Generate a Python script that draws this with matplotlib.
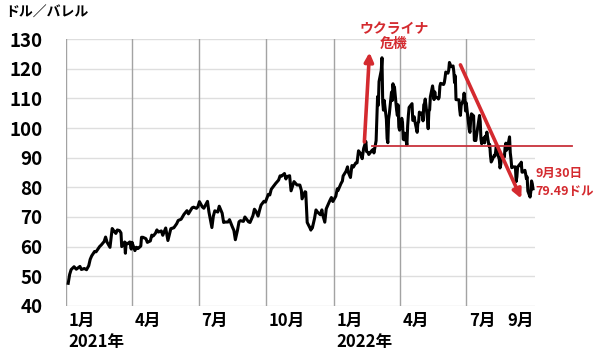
import matplotlib
matplotlib.use('Agg')
import matplotlib.pyplot as plt
import matplotlib.transforms as mtransforms
import matplotlib.dates as mdates
import numpy as np
import pandas as pd

plt.rcParams['font.family'] = ['Noto Sans CJK JP', 'DejaVu Sans']

# ---- data (WTI, USD/bbl) ----
dates_2021 = [
    '2021-01-04', '2021-01-06', '2021-01-08', '2021-01-12', '2021-01-13', '2021-01-15', '2021-01-20', '2021-01-22', '2021-01-26', '2021-01-29',
    '2021-02-01', '2021-02-03', '2021-02-05', '2021-02-09', '2021-02-11', '2021-02-16', '2021-02-18', '2021-02-22', '2021-02-24', '2021-02-26',
    '2021-03-02', '2021-03-04', '2021-03-05', '2021-03-08', '2021-03-10', '2021-03-12', '2021-03-15', '2021-03-17', '2021-03-18', '2021-03-22',
    '2021-03-23', '2021-03-24', '2021-03-26', '2021-03-29', '2021-03-31',
    '2021-04-01', '2021-04-05', '2021-04-07', '2021-04-09', '2021-04-13', '2021-04-14', '2021-04-16', '2021-04-20', '2021-04-22', '2021-04-26',
    '2021-04-28', '2021-04-30',
    '2021-05-03', '2021-05-05', '2021-05-07', '2021-05-11', '2021-05-13', '2021-05-17', '2021-05-19', '2021-05-20', '2021-05-24', '2021-05-26',
    '2021-05-28',
    '2021-06-01', '2021-06-03', '2021-06-07', '2021-06-09', '2021-06-11', '2021-06-15', '2021-06-17', '2021-06-22', '2021-06-24', '2021-06-28',
    '2021-06-30',
    '2021-07-02', '2021-07-06', '2021-07-08', '2021-07-13', '2021-07-15', '2021-07-19', '2021-07-21', '2021-07-23', '2021-07-27', '2021-07-29',
    '2021-08-02', '2021-08-04', '2021-08-06', '2021-08-10', '2021-08-12', '2021-08-16', '2021-08-18', '2021-08-20', '2021-08-23', '2021-08-25',
    '2021-08-27', '2021-08-31',
    '2021-09-02', '2021-09-07', '2021-09-09', '2021-09-13', '2021-09-15', '2021-09-17', '2021-09-20', '2021-09-22', '2021-09-24', '2021-09-28',
    '2021-09-30',
    '2021-10-04', '2021-10-06', '2021-10-08', '2021-10-12', '2021-10-14', '2021-10-18', '2021-10-20', '2021-10-22', '2021-10-26', '2021-10-28',
    '2021-10-29',
    '2021-11-02', '2021-11-04', '2021-11-08', '2021-11-10', '2021-11-12', '2021-11-16', '2021-11-18', '2021-11-19', '2021-11-23', '2021-11-24',
    '2021-11-26', '2021-11-30',
    '2021-12-01', '2021-12-02', '2021-12-03', '2021-12-06', '2021-12-08', '2021-12-10', '2021-12-14', '2021-12-16', '2021-12-17', '2021-12-20',
    '2021-12-22', '2021-12-27', '2021-12-29', '2021-12-31',
]
prices_2021 = [
    47.62, 50.63, 52.24, 53.21, 52.91, 52.36, 53.31, 52.27, 52.61, 52.20,
    53.55, 55.69, 56.85, 58.36, 58.24, 60.05, 60.52, 61.70, 63.22, 61.50,
    59.75, 63.83, 66.09, 65.05, 64.44, 65.61, 65.39, 64.60, 60.00, 61.55,
    57.76, 61.18, 60.97, 61.56, 59.16,
    61.45, 58.65, 59.77, 59.32, 60.18, 63.15, 63.13, 62.67, 61.43, 61.91,
    63.86, 63.58,
    64.49, 65.63, 64.90, 65.28, 63.82, 66.27, 63.36, 62.05, 66.05, 66.21,
    66.32,
    67.72, 68.81, 69.23, 70.05, 70.91, 72.12, 71.04, 73.08, 73.30, 72.91,
    73.47,
    75.16, 73.37, 72.94, 75.25, 71.65, 66.42, 70.30, 72.07, 71.65, 73.62,
    71.26, 68.15, 68.28, 68.29, 69.09, 66.59, 65.46, 62.32, 65.64, 68.36,
    68.74, 68.50,
    69.99, 68.35, 68.14, 70.45, 72.61, 71.97, 70.29, 72.23, 73.98, 75.29,
    75.03,
    77.62, 77.43, 79.35, 80.64, 81.31, 82.44, 83.87, 83.76, 84.65, 82.81,
    83.57,
    83.91, 78.81, 81.93, 81.34, 80.79, 80.76, 79.01, 76.10, 78.50, 78.39,
    68.15, 66.18,
    65.57, 66.50, 66.26, 69.49, 72.36, 71.67, 70.73, 72.38, 70.86, 68.23,
    72.76, 75.57, 76.56, 75.21,
]
dates_2022 = [
    '2022-01-04', '2022-01-06', '2022-01-07', '2022-01-11', '2022-01-13', '2022-01-14', '2022-01-18', '2022-01-20', '2022-01-21', '2022-01-24',
    '2022-01-26', '2022-01-28', '2022-01-31',
    '2022-02-02', '2022-02-04', '2022-02-07', '2022-02-09', '2022-02-11', '2022-02-14', '2022-02-15', '2022-02-17', '2022-02-18', '2022-02-22',
    '2022-02-24', '2022-02-25', '2022-02-28',
    '2022-03-01', '2022-03-02', '2022-03-03', '2022-03-04', '2022-03-07', '2022-03-08', '2022-03-09', '2022-03-10', '2022-03-11', '2022-03-14',
    '2022-03-15', '2022-03-16', '2022-03-17', '2022-03-18', '2022-03-21', '2022-03-22', '2022-03-23', '2022-03-24', '2022-03-25', '2022-03-28',
    '2022-03-29', '2022-03-30', '2022-03-31',
    '2022-04-01', '2022-04-04', '2022-04-05', '2022-04-06', '2022-04-07', '2022-04-08', '2022-04-11', '2022-04-12', '2022-04-13', '2022-04-14',
    '2022-04-18', '2022-04-19', '2022-04-20', '2022-04-21', '2022-04-22', '2022-04-25', '2022-04-26', '2022-04-27', '2022-04-28', '2022-04-29',
    '2022-05-02', '2022-05-03', '2022-05-04', '2022-05-05', '2022-05-06', '2022-05-09', '2022-05-10', '2022-05-11', '2022-05-12', '2022-05-13',
    '2022-05-16', '2022-05-17', '2022-05-18', '2022-05-19', '2022-05-20', '2022-05-23', '2022-05-24', '2022-05-25', '2022-05-26', '2022-05-27',
    '2022-05-31',
    '2022-06-01', '2022-06-02', '2022-06-03', '2022-06-06', '2022-06-07', '2022-06-08', '2022-06-09', '2022-06-10', '2022-06-13', '2022-06-14',
    '2022-06-15', '2022-06-16', '2022-06-17', '2022-06-21', '2022-06-22', '2022-06-23', '2022-06-24', '2022-06-27', '2022-06-28', '2022-06-29',
    '2022-06-30',
    '2022-07-01', '2022-07-05', '2022-07-06', '2022-07-07', '2022-07-08', '2022-07-11', '2022-07-12', '2022-07-13', '2022-07-14', '2022-07-15',
    '2022-07-18', '2022-07-19', '2022-07-20', '2022-07-21', '2022-07-22', '2022-07-25', '2022-07-26', '2022-07-27', '2022-07-28', '2022-07-29',
    '2022-08-01', '2022-08-02', '2022-08-03', '2022-08-04', '2022-08-05', '2022-08-08', '2022-08-09', '2022-08-10', '2022-08-11', '2022-08-12',
    '2022-08-15', '2022-08-16', '2022-08-17', '2022-08-18', '2022-08-19', '2022-08-22', '2022-08-23', '2022-08-24', '2022-08-25', '2022-08-26',
    '2022-08-29', '2022-08-30', '2022-08-31',
    '2022-09-01', '2022-09-02', '2022-09-06', '2022-09-07', '2022-09-08', '2022-09-09', '2022-09-12', '2022-09-13', '2022-09-14', '2022-09-15',
    '2022-09-16', '2022-09-19', '2022-09-20', '2022-09-21', '2022-09-22', '2022-09-23', '2022-09-26', '2022-09-27', '2022-09-28', '2022-09-29',
    '2022-09-30',
]
prices_2022 = [
    76.99, 79.46, 78.90, 81.22, 82.12, 83.82, 85.43, 86.90, 85.14, 83.31,
    87.35, 86.82, 88.15,
    88.26, 92.31, 91.32, 89.66, 93.10, 95.46, 92.07, 91.76, 91.07, 92.35,
    92.81, 91.59, 95.72,
    103.41, 110.60, 107.67, 115.68, 119.40, 123.70, 108.70, 106.02, 109.33, 103.01,
    96.44, 95.04, 102.98, 104.70, 112.12, 109.27, 114.93, 112.34, 113.90, 105.96,
    104.24, 107.82, 100.28,
    99.27, 103.28, 101.96, 96.23, 96.03, 98.26, 94.29, 100.60, 104.25, 106.95,
    108.21, 102.56, 102.75, 103.79, 102.07, 98.54, 101.70, 102.02, 105.36, 104.69,
    105.17, 102.41, 107.81, 108.26, 109.77, 103.09, 99.76, 105.71, 106.13, 110.49,
    114.20, 112.40, 109.59, 112.21, 110.28, 110.29, 109.77, 110.33, 114.09, 115.07,
    114.67,
    115.26, 116.87, 118.87, 118.50, 119.41, 122.11, 121.51, 120.67, 120.93, 118.93,
    115.31, 117.59, 109.56, 109.52, 106.19, 104.27, 107.62, 109.57, 111.76, 109.78,
    105.76,
    108.43, 99.50, 98.53, 102.73, 104.79, 104.09, 95.84, 96.30, 95.78, 97.59,
    102.60, 104.22, 102.26, 96.35, 94.70, 96.70, 94.98, 97.26, 96.42, 98.62,
    93.89, 94.42, 90.66, 88.54, 89.01, 90.76, 90.50, 91.93, 94.34, 92.09,
    89.41, 86.53, 87.65, 90.50, 90.77, 90.23, 93.74, 94.89, 92.52, 93.06,
    97.01, 91.64, 89.55,
    86.61, 86.87, 86.88, 81.94, 83.54, 86.79, 87.78, 87.31, 88.48, 85.10,
    85.11, 85.73, 84.45, 82.94, 83.49, 78.74, 76.71, 78.50, 82.15, 81.23,
    79.49,
]

y_ticks = [40, 50, 60, 70, 80, 90, 100, 110, 120, 130]
quarter_dates = ['2021-01-01', '2021-04-01', '2021-07-01', '2021-10-01',
                 '2022-01-01', '2022-04-01', '2022-07-01']
month_label_dates = ['2021-01-01', '2021-04-01', '2021-07-01', '2021-10-01',
                     '2022-01-01', '2022-04-01', '2022-07-01', '2022-08-22']
month_labels = ['1月', '4月', '7月', '10月', '1月', '4月', '7月', '9月']
year_label_dates = ['2021-01-01', '2022-01-01']
year_labels = ['2021年', '2022年']
y_unit = 'ドル／バレル'

crisis_label = 'ウクライナ\n危機'
crisis_label_pos = ('2022-03-24', 131.0)
crisis_arrow = (('2022-02-12', 95.3), ('2022-02-19', 125.5))
support_level = 94.0
support_span = ('2022-02-22', '2022-11-22')
trend_arrow = (('2022-06-23', 121.3), ('2022-09-14', 76.2))
last_label = '9月30日\n79.49ドル'
last_label_pos = ('2022-10-03', 81.5)


def dn(s):
    return mdates.date2num(pd.Timestamp(s))


# ---- figure ----
RED = '#d42a2f'
fig = plt.figure(figsize=(6, 3.52), dpi=100)
ax = fig.add_axes([0.11, 0.131, 0.782, 0.758])

x_vals = [dn(d) for d in dates_2021 + dates_2022]
prices = prices_2021 + prices_2022

for y in y_ticks:
    ax.axhline(y, color='#dedede', lw=1.0, zorder=1)
for d in quarter_dates:
    ax.axvline(dn(d), color='#a3a3a3', lw=1.0, zorder=1)

ax.plot(x_vals, prices, color='black', lw=2.2, zorder=3)

ax.set_xlim(dn('2021-01-01'), dn('2022-10-03'))
ax.set_ylim(40, 130)
ax.set_yticks(y_ticks)
ax.set_yticklabels([str(v) for v in y_ticks], fontsize=13.5, fontweight='bold')
ax.tick_params(axis='y', length=0, pad=17)
ax.set_xticks([])
for s in ax.spines.values():
    s.set_visible(False)

trans = mtransforms.blended_transform_factory(ax.transData, ax.transAxes)
for d, lab in zip(month_label_dates, month_labels):
    ax.annotate(lab, xy=(dn(d), 0), xycoords=trans,
                xytext=(2, -11), textcoords='offset points',
                ha='left', va='center', fontsize=12, fontweight='bold')
for d, lab in zip(year_label_dates, year_labels):
    ax.annotate(lab, xy=(dn(d), 0), xycoords=trans,
                xytext=(2, -26), textcoords='offset points',
                ha='left', va='center', fontsize=12, fontweight='bold')

fig.text(0.008, 1 - 13 / 352, y_unit, ha='left', va='center',
         fontsize=10, fontweight='bold')

# annotations
(b, t) = crisis_arrow
ax.annotate('', xy=(dn(t[0]), t[1]), xytext=(dn(b[0]), b[1]),
            arrowprops=dict(arrowstyle='-|>', color=RED, lw=2.6, mutation_scale=13,
                            shrinkA=0, shrinkB=0),
            annotation_clip=False, zorder=4)
ax.text(dn(crisis_label_pos[0]), crisis_label_pos[1], crisis_label, color=RED,
        ha='center', va='center', fontsize=10, fontweight='bold',
        linespacing=1.15, clip_on=False)

ax.plot([dn(support_span[0]), dn(support_span[1])],
        [support_level, support_level], color='#c8323c', lw=1.3, zorder=4,
        clip_on=False)

(b, t) = trend_arrow
ax.annotate('', xy=(dn(t[0]), t[1]), xytext=(dn(b[0]), b[1]),
            arrowprops=dict(arrowstyle='-|>', color=RED, lw=2.6, mutation_scale=13,
                            shrinkA=0, shrinkB=0),
            annotation_clip=False, zorder=4)
ax.text(dn(last_label_pos[0]), last_label_pos[1], last_label, color=RED,
        ha='left', va='center', fontsize=9, fontweight='bold', linespacing=1.5,
        clip_on=False)

fig.savefig('out.png', dpi=100)
